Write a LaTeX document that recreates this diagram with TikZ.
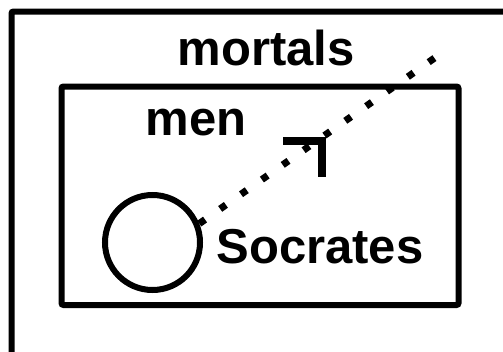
\documentclass[tikz,border=0pt]{standalone}
\usepackage{fontspec}
\setmainfont{Liberation Sans}
\usepackage{tikz}
\usetikzlibrary{positioning}

\begin{document}
\begin{tikzpicture}[x=1pt, y=-1pt,
        setbox/.style={line width=6pt, rounded corners=2pt},
        setname/.style={anchor=base, inner sep=0pt, font=\fontsize{49}{58}\selectfont\bfseries},
        member/.style={circle, draw, line width=6pt, minimum size=95pt, inner sep=0pt},
        dotline/.style={line width=7pt, dash pattern=on 7pt off 18.5pt},
        negmark/.style={line width=8pt, miter limit=10}
      ]
        \useasboundingbox (0,0) rectangle (503,351);
        \clip (0,0) rectangle (503,351);
        % the two sets
        \draw[setbox] (11.5,11.5) rectangle (520,370);
        \draw[setbox] (61.5,86.5) rectangle (458.5,305);
        \node[setname] (mortals) at (266,65) {mortals};
        \node[setname] (men) at (196,135) {men};
        % Socrates
        \node[member] (soc) at (152.5,242.5) {};
        \node[setname] (socname) at (320,263) {Socrates};
        % negated link
        \coordinate (tail) at (436,57);
        \draw[dotline] (soc.22) -- (tail);
        \draw[negmark] (283,141) -- (322,141) -- (322,177);
      \end{tikzpicture}
\end{document}
